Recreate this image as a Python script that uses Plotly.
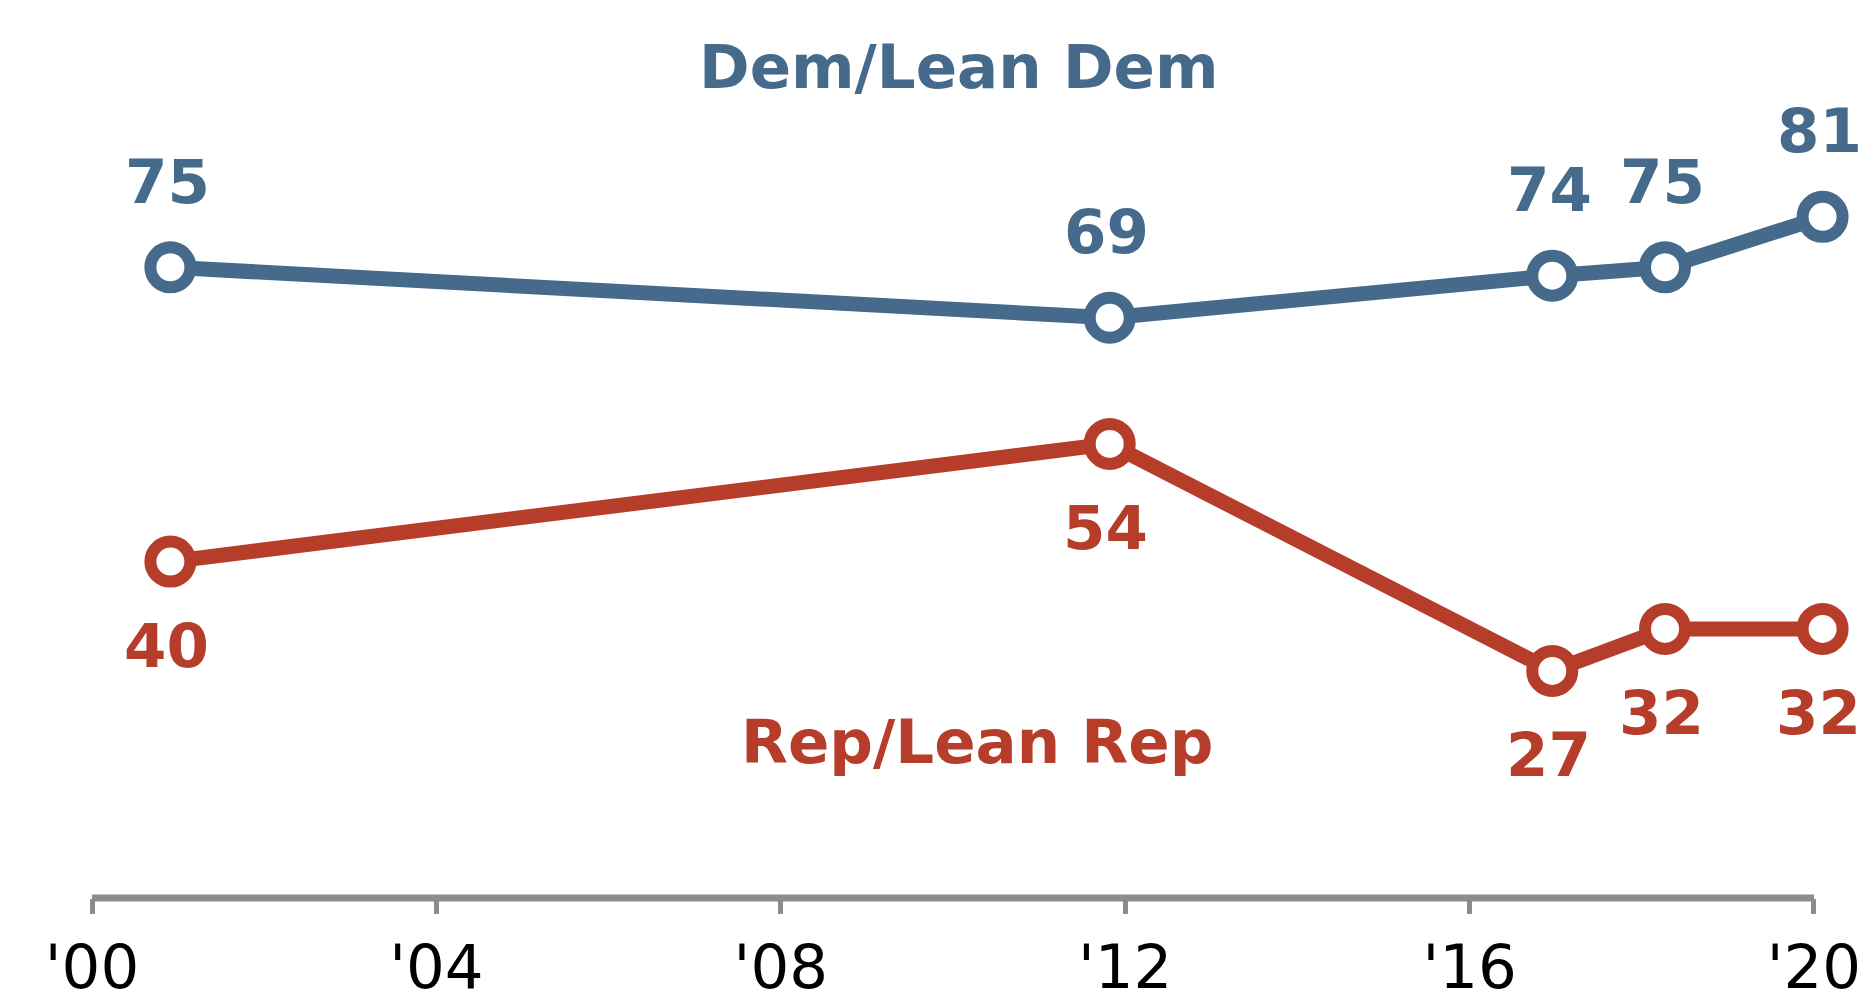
import plotly.graph_objects as go

# ---- data ----
years = [2000.91, 2011.82, 2016.96, 2018.27, 2020.1]
dem_values = [75, 69, 74, 75, 81]
rep_values = [40, 54, 27, 32, 32]
tick_vals = [2000, 2004, 2008, 2012, 2016, 2020]
tick_text = ["'00", "'04", "'08", "'12", "'16", "'20"]
dem_name = "Dem/Lean Dem"
rep_name = "Rep/Lean Rep"

DEM = "#466A8B"
REP = "#B73D2B"
GRAY = "#8C8C8C"
FONT = "DejaVu Sans"

fig = go.Figure()

for vals, col, nm in [(dem_values, DEM, dem_name), (rep_values, REP, rep_name)]:
    fig.add_trace(go.Scatter(
        x=years, y=vals, mode="lines+markers", name=nm,
        line=dict(color=col, width=15),
        marker=dict(symbol="circle", size=40, color="white",
                    line=dict(color=col, width=12)),
        cliponaxis=False, hoverinfo="x+y",
    ))

annotations = []
for x, v in zip(years, dem_values):
    annotations.append(dict(x=x, y=v, text=str(v), showarrow=False,
                            yshift=86, xshift=-3, yanchor="middle", xanchor="center",
                            font=dict(family=FONT, size=61, color=DEM, weight="bold")))
for x, v in zip(years, rep_values):
    annotations.append(dict(x=x, y=v, text=str(v), showarrow=False,
                            yshift=-84, xshift=-4, yanchor="middle", xanchor="center",
                            font=dict(family=FONT, size=61, color=REP, weight="bold")))

annotations.append(dict(x=2010.06, y=98.9, text=dem_name, showarrow=False,
                        yanchor="middle", xanchor="center",
                        font=dict(family=FONT, size=61, color=DEM, weight="bold")))
annotations.append(dict(x=2010.28, y=18.6, text=rep_name, showarrow=False,
                        yanchor="middle", xanchor="center",
                        font=dict(family=FONT, size=61, color=REP, weight="bold")))

fig.update_layout(
    width=1861, height=986,
    margin=dict(l=0, r=0, t=0, b=96, autoexpand=False),
    paper_bgcolor="white", plot_bgcolor="white",
    showlegend=False,
    annotations=annotations,
    shapes=[dict(type="line", xref="x", yref="paper", x0=2000, x1=2020, y0=0, y1=0,
                 line=dict(color=GRAY, width=7), layer="below")],
    xaxis=dict(range=[1999.024, 2020.639], tickvals=tick_vals, ticktext=tick_text,
               showgrid=False, zeroline=False, showline=False, automargin=False,
               ticks="outside", ticklen=15, tickwidth=5, tickcolor=GRAY,
               ticklabelstandoff=1,
               tickfont=dict(family=FONT, size=61, color="black")),
    yaxis=dict(range=[0, 105.83], visible=False, showgrid=False, zeroline=False),
)

fig.write_html("out.html")
